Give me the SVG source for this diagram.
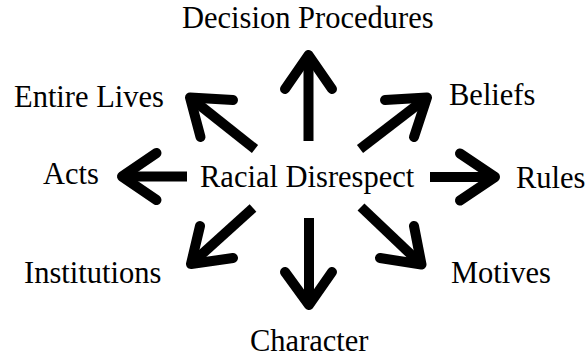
<svg xmlns="http://www.w3.org/2000/svg" width="587" height="358" viewBox="0 0 587 358">
<style>
  .lbl { font-family: "Liberation Serif", "Times New Roman", serif; font-size: 30.5px; fill: #000; }
  .shaft { fill: none; stroke: #000; stroke-width: 10; stroke-linecap: butt; }
  .head { fill: none; stroke: #000; stroke-width: 10; stroke-linecap: round; stroke-linejoin: round; }
</style>
<rect width="587" height="358" fill="#fff"/>
<g id="connectors">
  <g id="arrow-up"><path class="shaft" d="M308.5,141 L308.5,55"/><path class="head" d="M285,89 L308.5,55 L332,89"/></g>
  <g id="arrow-down"><path class="shaft" d="M309,218 L309,305"/><path class="head" d="M285,272 L309,305 L332,272"/></g>
  <g id="arrow-left"><path class="shaft" d="M187,176.5 L122,176.5"/><path class="head" d="M156.5,153 L122,176.5 L156.5,200"/></g>
  <g id="arrow-right"><path class="shaft" d="M430,177 L495,177"/><path class="head" d="M460,153.5 L495,177 L460,200.5"/></g>
  <g id="arrow-upleft"><path class="shaft" d="M255,149 L190,97.5"/><path class="head" d="M233,100 L190,97.5 L200.5,137"/></g>
  <g id="arrow-upright"><path class="shaft" d="M360,149 L427,97.5"/><path class="head" d="M385,100 L427,97.5 L414,137"/></g>
  <g id="arrow-downleft"><path class="shaft" d="M253,208 L191,264"/><path class="head" d="M200,226 L191,264 L233,258"/></g>
  <g id="arrow-downright"><path class="shaft" d="M361,207 L421.5,264.5"/><path class="head" d="M414,226 L421.5,264.5 L380,258"/></g>
</g>
<g id="node-center"><text class="lbl" x="200" y="187">Racial Disrespect</text></g>
<g id="node-decision"><text class="lbl" x="182" y="27.5">Decision Procedures</text></g>
<g id="node-entire"><text class="lbl" x="14" y="107">Entire Lives</text></g>
<g id="node-beliefs"><text class="lbl" x="449" y="105">Beliefs</text></g>
<g id="node-acts"><text class="lbl" x="43" y="184">Acts</text></g>
<g id="node-rules"><text class="lbl" x="516" y="188">Rules</text></g>
<g id="node-institutions"><text class="lbl" x="24" y="283">Institutions</text></g>
<g id="node-motives"><text class="lbl" x="451" y="283">Motives</text></g>
<g id="node-character"><text class="lbl" x="250" y="351">Character</text></g>
</svg>
